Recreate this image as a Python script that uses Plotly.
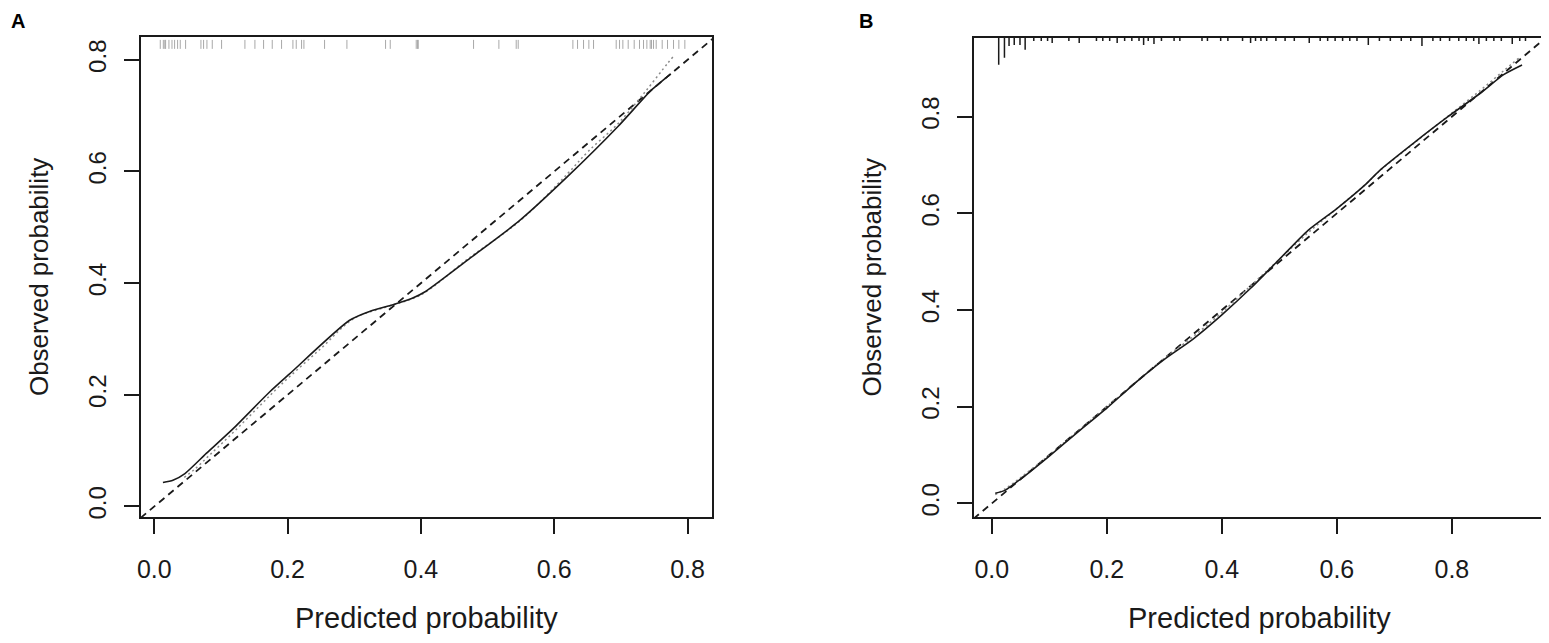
import plotly.graph_objects as go

# ---------------- data ----------------
# Panel A (calibration curve)
a_bias_x = [0.013, 0.028, 0.046, 0.078, 0.118, 0.173, 0.203, 0.2925, 0.327, 0.357, 0.387, 0.407, 0.472, 0.547, 0.621, 0.696, 0.746, 0.775]
a_bias_y = [0.043, 0.047, 0.059, 0.095, 0.139, 0.205, 0.2375, 0.333, 0.351, 0.361, 0.373, 0.385, 0.443, 0.511, 0.592, 0.681, 0.746, 0.775]
a_app_x = [0.045, 0.06, 0.083, 0.118, 0.153, 0.19, 0.25, 0.30, 0.35, 0.40, 0.47, 0.55, 0.62, 0.651, 0.696, 0.736, 0.771, 0.778]
a_app_y = [0.052, 0.066, 0.092, 0.132, 0.174, 0.218, 0.283, 0.337, 0.358, 0.379, 0.443, 0.513, 0.596, 0.636, 0.686, 0.742, 0.795, 0.805]
a_rug_x = [0.009, 0.0136, 0.0158, 0.017, 0.022, 0.0266, 0.0305, 0.035, 0.039, 0.047,
           0.070, 0.074, 0.079, 0.087, 0.101, 0.136, 0.151, 0.164, 0.177, 0.191,
           0.208, 0.213, 0.221, 0.2245, 0.2555, 0.289, 0.347, 0.354, 0.393, 0.395,
           0.396, 0.479, 0.517, 0.543, 0.546, 0.628, 0.635, 0.644, 0.652, 0.659,
           0.693, 0.698, 0.703, 0.711, 0.720, 0.728, 0.734, 0.739, 0.744, 0.746,
           0.749, 0.753, 0.762, 0.770, 0.779, 0.787, 0.796]

# Panel B
b_bias_x = [0.006, 0.023, 0.052, 0.10, 0.15, 0.20, 0.25, 0.30, 0.35, 0.40, 0.45, 0.50, 0.55, 0.60, 0.65, 0.6765, 0.734, 0.792, 0.85, 0.89, 0.922]
b_bias_y = [0.021, 0.027, 0.052, 0.098, 0.148, 0.197, 0.25, 0.298, 0.34, 0.39, 0.445, 0.505, 0.565, 0.61, 0.66, 0.691, 0.746, 0.799, 0.849, 0.887, 0.907]
b_app_x = [0.006, 0.023, 0.052, 0.10, 0.15, 0.20, 0.25, 0.30, 0.35, 0.40, 0.45, 0.50, 0.55, 0.60, 0.65, 0.6765, 0.734, 0.792, 0.85, 0.89, 0.916]
b_app_y = [0.018, 0.030, 0.055, 0.100, 0.150, 0.200, 0.250, 0.300, 0.345, 0.395, 0.450, 0.505, 0.560, 0.610, 0.660, 0.690, 0.745, 0.800, 0.855, 0.895, 0.921]
b_spike_x = [0.012, 0.022, 0.030, 0.039, 0.049, 0.058, 0.073, 0.086, 0.097, 0.105,
             0.134, 0.152, 0.182, 0.193, 0.205, 0.218, 0.231, 0.2435, 0.256, 0.264,
             0.272, 0.282, 0.295, 0.317, 0.327, 0.3655, 0.375, 0.398, 0.4105, 0.436,
             0.450, 0.4586, 0.468, 0.478, 0.494, 0.510, 0.526, 0.552, 0.571, 0.584,
             0.597, 0.610, 0.6225, 0.635, 0.6547, 0.674, 0.693, 0.712, 0.7285, 0.748,
             0.767, 0.780, 0.796, 0.812, 0.825, 0.838, 0.847, 0.860, 0.873, 0.886,
             0.905, 0.918, 0.928]
b_spike_n = [27, 20, 8, 7, 7, 12, 3, 3, 3, 5,
             3, 5, 3, 3, 3, 5, 3, 3, 3, 7,
             3, 6, 3, 3, 3, 3, 3, 3, 3, 3,
             5, 3, 3, 3, 3, 3, 3, 5, 3, 3,
             3, 3, 3, 3, 7, 3, 3, 3, 3, 8,
             3, 3, 3, 3, 3, 3, 6, 3, 3, 3,
             6, 3, 3]

tick_vals = [0.0, 0.2, 0.4, 0.6, 0.8]
tick_text = ["0.0", "0.2", "0.4", "0.6", "0.8"]
x_title = "Predicted probability"
y_title = "Observed probability"
panel_labels = ["A", "B"]

# ---------------- layout geometry ----------------
W, H = 1549, 643
OFF = 8  # default page body margin: page px = OFF + figure px
def P(v):
    return v - OFF

boxA = (P(137), P(710), P(37), P(519))
boxB = (P(972), P(1545), P(38), P(519))
rangeA_x = [-0.0204, 0.837]
rangeA_y = [-0.0196, 0.841]
rangeB_x = [-0.0318, 0.962]
rangeB_y = [-0.029, 0.963]

FONT = "Liberation Sans, Arial, Helvetica, sans-serif"
INK = "#1a1a1a"


def dom(box):
    l, r, t, b = box
    return [l / W, r / W], [1 - b / H, 1 - t / H]


def segs(xs, y0s, y1s):
    X, Y = [], []
    for x, a, b in zip(xs, y0s, y1s):
        X += [x, x, None]
        Y += [a, b, None]
    return X, Y


fig = go.Figure()

# ---- Panel A ----
lo = min(rangeA_x[0], rangeA_y[0]); hi = max(rangeA_x[1], rangeA_y[1])
pxA = (boxA[3] - boxA[2]) / (rangeA_y[1] - rangeA_y[0])
rx, ry = segs(a_rug_x, [rangeA_y[1] - 3 / pxA] * len(a_rug_x), [rangeA_y[1] - 12 / pxA] * len(a_rug_x))
fig.add_trace(go.Scatter(x=rx, y=ry, mode="lines", line=dict(color="#a8a8a8", width=1), xaxis="x", yaxis="y", hoverinfo="skip"))
fig.add_trace(go.Scatter(x=[lo, hi], y=[lo, hi], mode="lines", line=dict(color=INK, width=1.8, dash="7px,5px"), xaxis="x", yaxis="y"))
fig.add_trace(go.Scatter(x=a_app_x, y=a_app_y, mode="lines", line=dict(color="#8a8a8a", width=1.5, dash="2px,3px", shape="spline"), xaxis="x", yaxis="y"))
fig.add_trace(go.Scatter(x=a_bias_x, y=a_bias_y, mode="lines", line=dict(color=INK, width=1.6, shape="spline", smoothing=0.6), xaxis="x", yaxis="y"))

# ---- Panel B ----
lo = min(rangeB_x[0], rangeB_y[0]); hi = max(rangeB_x[1], rangeB_y[1])
pxB = (boxB[3] - boxB[2]) / (rangeB_y[1] - rangeB_y[0])
top = rangeB_y[1]
sx, sy = segs(b_spike_x, [top] * len(b_spike_x), [top - n / pxB for n in b_spike_n])
fig.add_trace(go.Scatter(x=sx, y=sy, mode="lines", line=dict(color=INK, width=1.5), xaxis="x2", yaxis="y2", hoverinfo="skip"))
fig.add_trace(go.Scatter(x=[lo, hi], y=[lo, hi], mode="lines", line=dict(color=INK, width=1.8, dash="7px,5px"), xaxis="x2", yaxis="y2"))
fig.add_trace(go.Scatter(x=b_app_x, y=b_app_y, mode="lines", line=dict(color="#8a8a8a", width=1.5, dash="2px,3px", shape="spline"), xaxis="x2", yaxis="y2"))
fig.add_trace(go.Scatter(x=b_bias_x, y=b_bias_y, mode="lines", line=dict(color=INK, width=1.6, shape="spline", smoothing=0.6), xaxis="x2", yaxis="y2"))

axis_common = dict(showline=True, mirror=True, linecolor=INK, linewidth=1.6, ticks="outside",
                   ticklen=15, tickwidth=1.6, tickcolor=INK, showgrid=False, zeroline=False,
                   tickvals=tick_vals, ticktext=tick_text)
xfont = dict(family=FONT, size=25, color=INK)
yfont = dict(family=FONT, size=24, color=INK)

dxA, dyA = dom(boxA)
dxB, dyB = dom(boxB)
fig.update_layout(
    width=W, height=H, margin=dict(l=0, r=0, t=0, b=0),
    paper_bgcolor="white", plot_bgcolor="white", showlegend=False,
    xaxis=dict(domain=dxA, range=rangeA_x, anchor="y", ticklabelstandoff=14, tickfont=xfont, **axis_common),
    yaxis=dict(domain=dyA, range=rangeA_y, anchor="x", tickangle=-90, ticklabelstandoff=8, tickfont=yfont, **axis_common),
    xaxis2=dict(domain=dxB, range=rangeB_x, anchor="y2", ticklabelstandoff=14, tickfont=xfont, **axis_common),
    yaxis2=dict(domain=dyB, range=rangeB_y, anchor="x2", tickangle=-90, ticklabelstandoff=8, tickfont=yfont, **axis_common),
)

ann = []
for box in [boxA, boxB]:
    l, r, t, b = box
    ann.append(dict(x=(l + r) / 2 / W, y=1 - P(620) / H, xref="paper", yref="paper", text=x_title,
                    showarrow=False, xanchor="center", yanchor="middle",
                    font=dict(family=FONT, size=29, color=INK)))
    ann.append(dict(x=(l - 102) / W, y=1 - (t + b) / 2 / H, xref="paper", yref="paper", text=y_title,
                    textangle=-90, showarrow=False, xanchor="center", yanchor="middle",
                    font=dict(family=FONT, size=26, color=INK)))
label_pos = [(P(5), P(8)), (P(855), P(8))]
for lab, (lx, ly) in zip(panel_labels, label_pos):
    ann.append(dict(x=lx / W, y=1 - ly / H, xref="paper", yref="paper", text="<b>" + lab + "</b>",
                    showarrow=False, xanchor="left", yanchor="top",
                    font=dict(family=FONT, size=20, color="black")))
fig.update_layout(annotations=ann)

fig.write_html("out.html")
